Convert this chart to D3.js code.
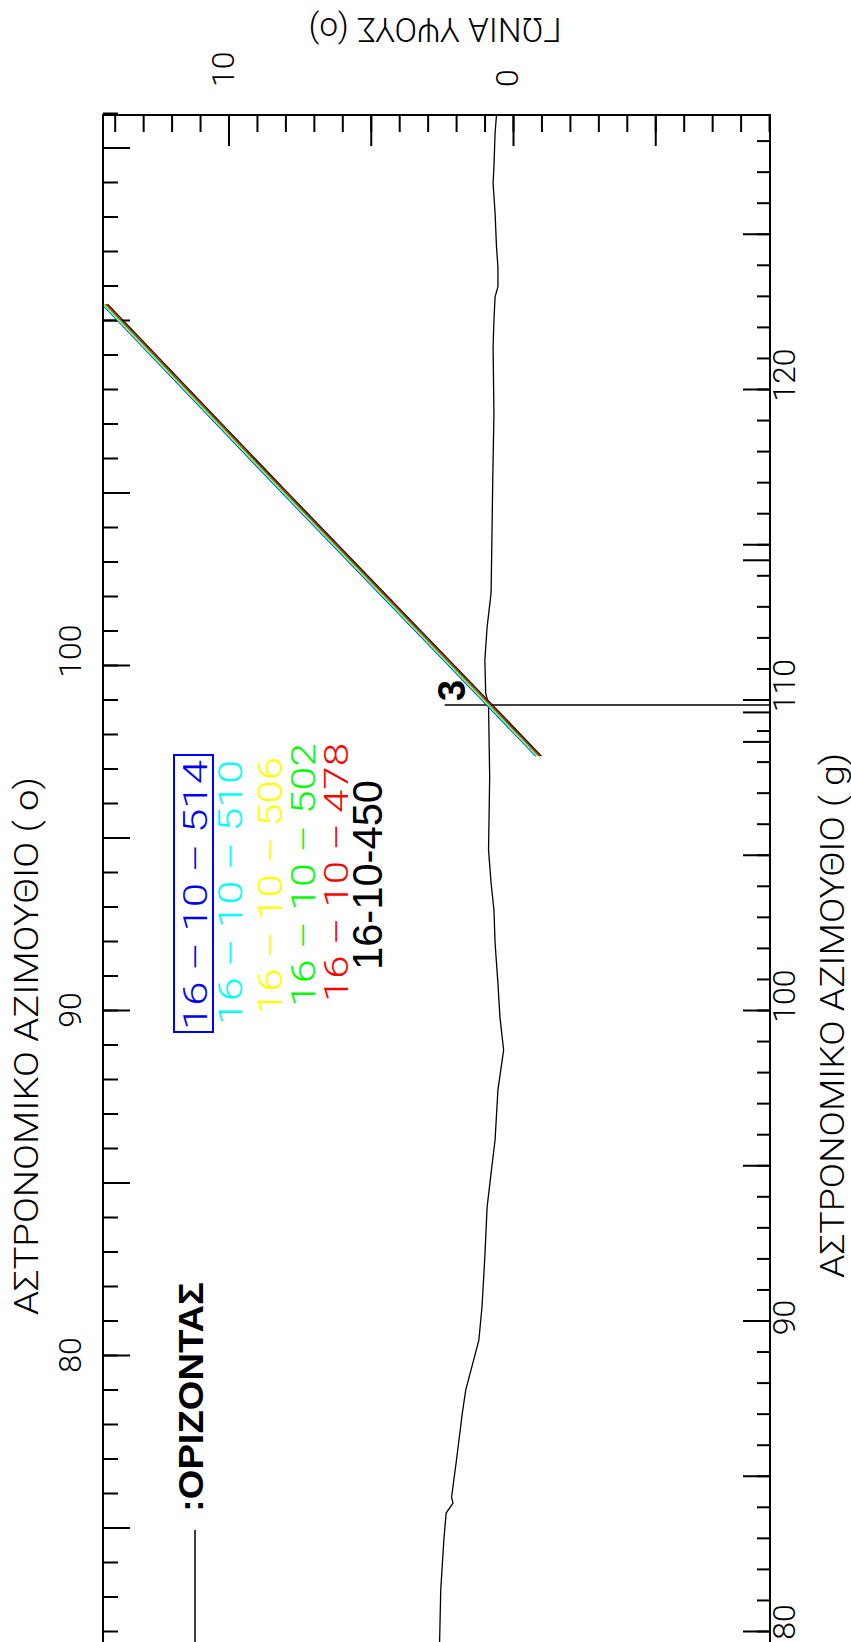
<!DOCTYPE html>
<html>
<head>
<meta charset="utf-8">
<script src="https://cdn.jsdelivr.net/npm/d3@7"></script>
<style>
  body { margin: 0; background: #fff; }
  svg { display: block; }
  .lbl { font-family: Roboto, "DejaVu Sans", sans-serif; font-weight: 300; fill: #000; }
  .bold { font-family: "Liberation Sans", Arial, sans-serif; font-weight: bold; fill: #000; }
  .mid { font-family: "Liberation Sans", Arial, sans-serif; font-weight: normal; }
</style>
</head>
<body>
<div id="wrapper"></div>
<script>
// horizon profile (azimuth in degrees, elevation in degrees)
const horizonAz = [115.94, 115.42, 114.43, 113.97, 113.10, 112.12, 111.54, 110.96, 110.67, 110.0,
  109.22, 107.30, 105.45, 102.09, 101.10, 100.14, 99.19, 98.84, 96.75, 94.64, 93.68, 92.90,
  91.94, 90.78, 89.80, 88.84, 87.68, 86.23, 85.28, 84.29, 82.84, 81.39, 80.43, 78.99, 78.32,
  76.87, 75.88, 75.71, 75.42, 74.64, 73.19, 71.68]
const horizonEl = [0.58, 0.63, 0.67, 0.70, 0.63, 0.58, 0.53, 0.53, 0.63, 0.67,
  0.70, 0.67, 0.71, 0.77, 0.91, 0.99, 0.96, 0.86, 0.82, 0.86, 0.77, 0.67,
  0.63, 0.53, 0.46, 0.33, 0.53, 0.63, 0.77, 0.91, 0.99, 1.09, 1.20, 1.66, 1.78,
  2.00, 2.16, 2.11, 2.35, 2.43, 2.54, 2.58]

// sun paths for 16 October of each year
const pathNames = ["16 – 10 – 514", "16 – 10 – 510", "16 – 10 – 506", "16 – 10 – 502", "16 – 10 – 478", "16-10-450"]
const pathColors = ["#0000ff", "#00ffff", "#ffff00", "#00ff00", "#ff0000", "#000000"]
const pathAz = [110.46, 105.01, 98.83, 97.36]
const pathEl = [
  [14.45, 8.14, 0.91, -0.80],
  [14.42, 8.11, 0.88, -0.83],
  [14.38, 8.07, 0.84, -0.87],
  [14.35, 8.04, 0.81, -0.90],
  [14.31, 8.00, 0.77, -0.94],
  [14.25, 7.94, 0.71, -1.00]
]

// crossing of sun path and horizon
const crossAz = 98.84
const crossLabel = "3"

// tick labels
const azDegLabels = [80, 90, 100]
const azGradLabels = [80, 90, 100, 110, 120]
const elLabels = [10, 0]
const markGrads = [114.5, 109.6, 108.65]

const width = 851, height = 1642
const frame = { left: 103, right: 770, top: 115 }

const svg = d3.select("#wrapper").append("svg")
  .attr("width", width)
  .attr("height", height)

// scales: elevation runs right-to-left, azimuth top-to-bottom
const x = d3.scaleLinear().domain([0, 10]).range([513, 228.5])
const y = d3.scaleLinear().domain([100, 90]).range([665, 1010])
const yG = d3.scaleLinear().domain([100, 120]).range([y(90), y(108)])

// frame
svg.append("rect")
  .attr("x", frame.left).attr("y", frame.top)
  .attr("width", frame.right - frame.left).attr("height", 1700)
  .attr("fill", "none").attr("stroke", "#000").attr("stroke-width", 2)

function ticks(axis, tx, ty) {
  svg.append("g")
    .attr("transform", `translate(${tx},${ty})`)
    .call(axis.tickFormat(""))
    .call(g => g.select(".domain").remove())
    .call(g => g.selectAll("line").attr("stroke", "#000").attr("stroke-width", 2))
}

// left axis (degrees)
ticks(d3.axisRight(y).tickValues(d3.range(72, 117)).tickSize(15), frame.left, 0)
ticks(d3.axisRight(y).tickValues(d3.range(75, 117, 5)).tickSize(27), frame.left, 0)
// right axis (grads)
ticks(d3.axisLeft(yG).tickValues(d3.range(80, 129)).tickSize(13), frame.right, 0)
ticks(d3.axisLeft(yG).tickValues(d3.range(80, 129, 5)).tickSize(27), frame.right, 0)
ticks(d3.axisLeft(yG).tickValues(markGrads).tickSize(27), frame.right, 0)
// top axis (elevation)
ticks(d3.axisBottom(x).tickValues(d3.range(-9, 15)).tickSize(17), 0, frame.top)
ticks(d3.axisBottom(x).tickValues(d3.range(-5, 15, 5)).tickSize(31), 0, frame.top)

// tick labels, rotated like the rest of the sheet
svg.selectAll(".azDeg").data(azDegLabels).join("text")
  .attr("class", "lbl").attr("font-size", 32).attr("text-anchor", "middle")
  .attr("transform", d => `translate(81,${y(d) + (String(d).length > 2 ? -14 : 0)}) rotate(-90)`)
  .text(d => d)

svg.selectAll(".azGrad").data(azGradLabels).join("text")
  .attr("class", "lbl").attr("font-size", 32).attr("text-anchor", "middle")
  .attr("transform", d => `translate(795,${Math.min(yG(d) + (String(d).length > 2 ? -14 : -3), height - 20)}) rotate(-90)`)
  .text(d => d)

svg.selectAll(".el").data(elLabels).join("text")
  .attr("class", "lbl").attr("font-size", 32).attr("text-anchor", "start")
  .attr("transform", d => `translate(${x(d) + 5},87) rotate(-90)`)
  .text(d => d)

// axis titles
svg.append("text").attr("class", "lbl").attr("font-size", 34)
  .attr("transform", "translate(38,1315) rotate(-90)")
  .attr("textLength", 538).attr("lengthAdjust", "spacingAndGlyphs")
  .text("ΑΣΤΡΟΝΟΜΙΚΟ ΑΖΙΜΟΥΘΙΟ  ( ο)")

svg.append("text").attr("class", "lbl").attr("font-size", 34)
  .attr("transform", "translate(844,1278) rotate(-90)")
  .attr("textLength", 525).attr("lengthAdjust", "spacingAndGlyphs")
  .text("ΑΣΤΡΟΝΟΜΙΚΟ ΑΖΙΜΟΥΘΙΟ  ( g)")

svg.append("text").attr("class", "lbl").attr("font-size", 33)
  .attr("text-anchor", "middle")
  .attr("transform", "translate(435,18) rotate(180)")
  .attr("textLength", 253).attr("lengthAdjust", "spacingAndGlyphs")
  .text("ΓΩΝΙΑ ΥΨΟΥΣ (ο)")

// horizon
const horizon = horizonAz.map((a, i) => [a, horizonEl[i]])
const line = d3.line().x(d => x(d[1])).y(d => y(d[0]))

svg.append("path")
  .datum(horizon)
  .attr("d", line)
  .attr("fill", "none").attr("stroke", "#000").attr("stroke-width", 1.3)

// crosshair at the horizon crossing
svg.append("line")
  .attr("x1", x(2.4)).attr("x2", frame.right)
  .attr("y1", y(crossAz)).attr("y2", y(crossAz))
  .attr("stroke", "#000").attr("stroke-width", 1.5)
svg.append("text").attr("class", "bold").attr("font-size", 38)
  .attr("transform", `translate(${x(2.4) + 20},${y(crossAz) - 4}) rotate(-90)`)
  .text(crossLabel)

// sun paths
svg.append("clipPath").attr("id", "plot")
  .append("rect").attr("x", frame.left + 1).attr("y", frame.top + 1)
  .attr("width", frame.right - frame.left - 2).attr("height", 1700)

pathEl.forEach((els, i) => {
  svg.append("path")
    .datum(pathAz.map((a, j) => [a, els[j]]))
    .attr("d", line)
    .attr("clip-path", "url(#plot)")
    .attr("fill", "none").attr("stroke", pathColors[i]).attr("stroke-width", 1.3)
})

// legend of sun paths
const legendX = [207, 242, 282, 315, 348, 382]
const legendStart = [1030, 1025, 1015, 1007, 1002, 970]
const legendLen = [270, 265, 258, 264, 259, 190]

pathNames.forEach((name, i) => {
  const last = i === pathNames.length - 1
  svg.append("text")
    .attr("class", last ? "mid" : "lbl")
    .style("fill", pathColors[i])
    .attr("font-size", last ? 42 : 34)
    .attr("transform", `translate(${legendX[i]},${legendStart[i]}) rotate(-90)`)
    .attr("textLength", legendLen[i]).attr("lengthAdjust", "spacingAndGlyphs")
    .text(name)
})
svg.append("rect")
  .attr("x", 174).attr("y", 755).attr("width", 39).attr("height", 277)
  .attr("fill", "none").attr("stroke", "#0000ff").attr("stroke-width", 2)

// legend of horizon
svg.append("line")
  .attr("x1", 195).attr("x2", 195).attr("y1", 1530).attr("y2", height)
  .attr("stroke", "#000").attr("stroke-width", 1.5)
svg.append("text").attr("class", "bold").attr("font-size", 35)
  .attr("transform", "translate(203,1512) rotate(-90)")
  .attr("textLength", 230).attr("lengthAdjust", "spacingAndGlyphs")
  .text(":ΟΡΙΖΟΝΤΑΣ")
</script>
</body>
</html>
